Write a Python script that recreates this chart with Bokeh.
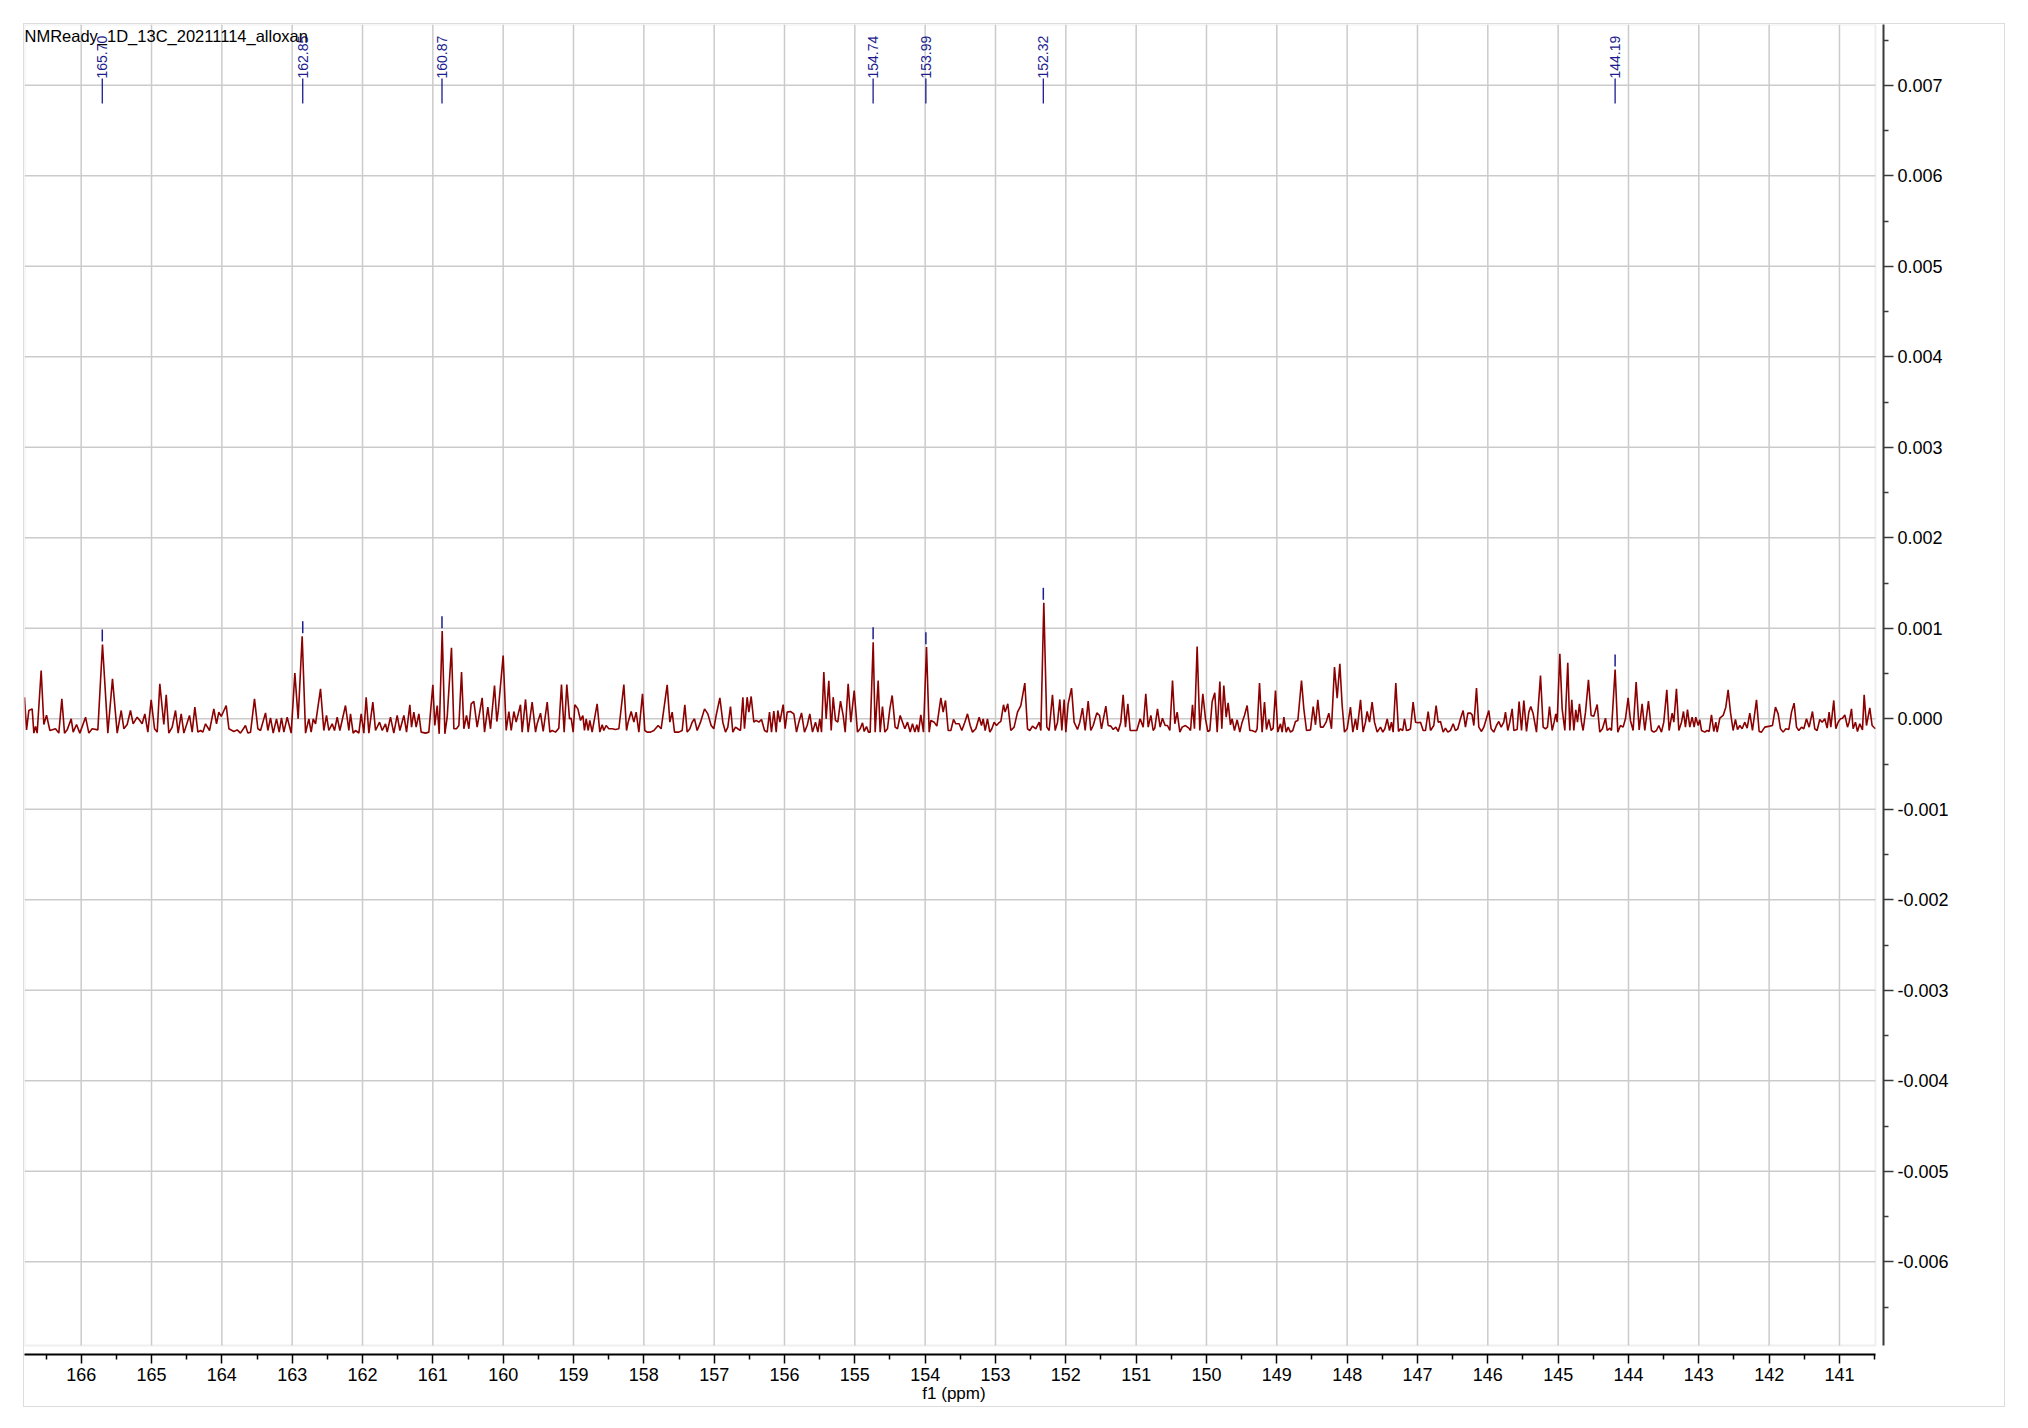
import numpy as np
from bokeh.plotting import figure
from bokeh.models import (Range1d, FixedTicker, PrintfTickFormatter, BoxAnnotation,
                          Label, ColumnDataSource)
from bokeh.core.properties import value
from bokeh.embed import file_html
from bokeh.resources import INLINE

# ---------------- data ----------------
title_text = "NMReady_1D_13C_20211114_alloxan"
x_label = "f1 (ppm)"
x_ticks = [141, 142, 143, 144, 145, 146, 147, 148, 149, 150, 151, 152, 153,
           154, 155, 156, 157, 158, 159, 160, 161, 162, 163, 164, 165, 166]
x_minor = [140.5, 141.5, 142.5, 143.5, 144.5, 145.5, 146.5, 147.5, 148.5, 149.5,
           150.5, 151.5, 152.5, 153.5, 154.5, 155.5, 156.5, 157.5, 158.5, 159.5,
           160.5, 161.5, 162.5, 163.5, 164.5, 165.5, 166.5]
y_ticks = [-0.006, -0.005, -0.004, -0.003, -0.002, -0.001, 0.0,
           0.001, 0.002, 0.003, 0.004, 0.005, 0.006, 0.007]
y_minor = [-0.0065, -0.0055, -0.0045, -0.0035, -0.0025, -0.0015, -0.0005,
           0.0005, 0.0015, 0.0025, 0.0035, 0.0045, 0.0055, 0.0065, 0.0075]

# spectrum vertices: chemical shift (ppm) and intensity (x 1e-4)
spec_ppm = [
166.806,166.777,166.744,166.697,166.673,166.649,166.626,166.569,166.531,166.493,
166.445,166.365,166.318,166.275,166.237,166.199,166.142,166.114,166.066,166.019,
165.938,165.891,165.844,165.763,165.697,165.621,165.555,165.488,165.431,165.393,
165.346,165.299,165.261,165.204,165.166,165.133,165.095,165.052,165.005,164.957,
164.919,164.882,164.825,164.791,164.754,164.706,164.659,164.621,164.578,164.540,
164.460,164.422,164.384,164.341,164.303,164.270,164.232,164.175,164.114,164.076,
164.043,164.009,163.938,163.900,163.829,163.782,163.735,163.664,163.630,163.592,
163.536,163.488,163.450,163.379,163.346,163.308,163.270,163.223,163.185,163.152,
163.118,163.071,163.014,162.962,162.915,162.858,162.810,162.763,162.730,162.701,
162.668,162.597,162.550,162.512,162.479,162.431,162.398,162.360,162.322,162.242,
162.194,162.171,162.133,162.100,162.052,162.019,161.981,161.948,161.910,161.853,
161.815,161.758,161.720,161.673,161.649,161.602,161.555,161.507,161.469,161.412,
161.374,161.327,161.303,161.270,161.237,161.199,161.166,161.104,161.057,161.000,
160.972,160.938,160.910,160.867,160.829,160.796,160.735,160.701,160.664,160.630,
160.592,160.559,160.521,160.488,160.455,160.417,160.370,160.299,160.265,160.218,
160.180,160.123,160.090,160.070,160.000,
159.957,159.919,159.886,159.848,159.815,159.754,159.730,159.682,159.645,159.588,
159.540,159.517,159.469,159.431,159.374,159.336,159.303,159.256,159.209,159.171,
159.133,159.095,159.057,159.033,159.005,158.981,158.938,158.900,158.867,158.844,
158.820,158.791,158.768,158.735,158.664,158.626,158.592,158.569,158.536,158.498,
158.450,158.403,158.355,158.284,158.246,158.223,158.180,158.142,158.109,158.071,
158.019,157.986,157.953,157.905,157.858,157.796,157.754,157.668,157.630,157.597,
157.564,157.502,157.455,157.417,157.384,157.346,157.313,157.280,157.242,157.194,
157.137,157.090,157.043,157.005,156.972,156.919,156.877,156.839,156.806,156.768,
156.735,156.697,156.664,156.626,156.592,156.569,156.531,156.507,156.474,156.436,
156.403,156.365,156.327,156.284,156.246,156.213,156.185,156.152,156.118,156.095,
156.066,156.019,155.991,155.962,155.915,155.867,155.829,155.796,155.758,155.716,
155.678,155.640,155.602,155.559,155.526,155.498,155.474,155.441,155.408,155.370,
155.336,155.308,155.275,155.242,155.204,
155.166,155.137,155.095,155.057,155.009,154.962,154.924,154.891,154.867,154.834,
154.806,154.782,154.739,154.711,154.668,154.640,154.607,154.573,154.536,154.502,
154.469,154.427,154.393,154.355,154.322,154.289,154.251,154.213,154.180,154.147,
154.118,154.095,154.062,154.024,153.981,153.943,153.919,153.872,153.834,153.777,
153.744,153.711,153.673,153.635,153.597,153.564,153.517,153.479,153.436,153.398,
153.360,153.327,153.280,153.232,153.199,153.175,153.147,153.114,153.081,153.052,
153.019,152.986,152.957,152.924,152.886,152.863,152.825,152.782,152.735,152.687,
152.640,152.583,152.545,152.512,152.474,152.427,152.379,152.355,152.313,152.270,
152.237,152.190,152.152,152.118,152.085,152.057,152.024,152.000,151.967,151.919,
151.882,151.834,151.801,151.763,151.725,151.682,151.645,151.611,151.559,151.521,
151.493,151.431,151.398,151.360,151.327,151.289,151.256,151.218,151.185,151.152,
151.118,151.085,151.028,150.991,150.943,150.900,150.863,150.829,150.791,150.758,
150.735,150.697,150.659,150.626,150.588,150.555,150.521,150.483,
150.450,150.417,150.379,150.346,150.299,150.251,150.227,150.199,150.171,150.133,
150.095,150.052,150.014,149.981,149.953,149.919,149.882,149.848,149.810,149.782,
149.754,149.720,149.692,149.659,149.635,149.602,149.564,149.526,149.493,149.460,
149.422,149.384,149.351,149.303,149.280,149.246,149.209,149.175,149.147,149.114,
149.081,149.052,149.019,148.986,148.948,148.924,148.900,148.867,148.839,148.806,
148.773,148.735,148.701,148.649,148.616,148.578,148.521,148.483,148.450,148.417,
148.379,148.341,148.299,148.261,148.223,148.180,148.142,148.104,148.071,148.038,
148.000,147.953,147.919,147.882,147.858,147.810,147.773,147.739,147.716,147.682,
147.645,147.611,147.573,147.526,147.493,147.464,147.431,147.398,147.370,147.346,
147.308,147.270,147.242,147.209,147.185,147.156,147.123,147.100,147.062,147.028,
146.995,146.957,146.919,146.886,146.848,146.815,146.768,146.735,146.706,146.673,
146.635,146.602,146.569,146.531,146.493,146.460,146.427,146.389,146.351,146.318,
146.284,146.246,146.223,146.199,146.161,146.128,146.090,146.057,146.019,145.986,
145.953,145.915,145.877,145.844,145.810,145.773,145.749,145.716,145.687,145.654,
145.630,
145.583,145.555,145.521,145.488,145.450,145.417,145.389,145.355,145.308,145.251,
145.213,145.180,145.152,145.123,145.085,145.057,145.033,145.014,144.976,144.943,
144.905,144.863,144.834,144.806,144.777,144.749,144.725,144.697,144.668,144.645,
144.611,144.569,144.531,144.493,144.445,144.408,144.370,144.327,144.303,144.265,
144.242,144.190,144.152,144.114,144.076,144.043,144.005,143.972,143.934,143.891,
143.848,143.806,143.768,143.716,143.673,143.640,143.602,143.569,143.531,143.498,
143.455,143.422,143.379,143.355,143.318,143.284,143.246,143.218,143.190,143.161,
143.128,143.095,143.066,143.043,143.009,142.986,142.962,142.915,142.882,142.853,
142.820,142.787,142.758,142.739,142.701,142.654,142.616,142.583,142.550,142.512,
142.479,142.450,142.417,142.384,142.346,142.313,142.275,142.237,142.180,142.142,
142.109,142.062,141.991,141.953,141.910,141.872,141.839,141.801,141.763,141.720,
141.682,141.645,141.611,141.578,141.540,141.507,141.469,141.431,141.384,141.351,
141.318,141.280,141.246,141.209,141.175,141.147,141.123,141.081,141.052,141.019,
140.986,140.957,140.924,140.886,140.863,140.829,140.806,140.773,140.744,140.711,
140.673,140.649,140.616,140.569,140.536,140.490,
]
spec_int_1e4 = [
2.39,-1.22,0.92,1.10,-1.58,-0.85,-1.58,5.34,-0.63,0.41,
-1.29,-1.10,-1.58,2.21,-1.58,-1.22,0.00,-1.47,-0.63,-1.58,
0.18,-1.58,-1.10,-1.22,8.21,-1.58,4.42,-1.58,0.92,-1.10,
-0.63,0.92,-0.55,0.18,-0.18,-0.55,0.55,-1.47,2.10,-1.10,
-1.47,3.87,-0.63,2.65,-1.58,-0.92,0.92,-1.58,0.55,-1.58,
0.37,-1.47,1.29,-1.47,-1.29,-1.47,-0.55,-1.29,1.10,-0.55,
0.74,0.26,1.47,-1.10,-1.40,-1.22,-1.58,-0.74,-1.58,-1.47,
2.21,-1.10,-1.29,0.66,-1.29,0.11,-1.58,0.00,-1.47,0.11,
-1.47,0.18,-1.58,5.05,0.00,9.13,-1.58,0.00,-1.47,0.00,
-0.55,3.31,-1.29,0.37,-1.29,-0.55,-1.29,0.18,-1.29,1.47,
-1.29,0.55,-1.58,-1.29,-1.58,0.55,-1.58,2.39,-1.58,1.84,
-1.29,-0.37,-1.29,-0.55,-1.47,0.18,-1.58,0.37,-1.29,0.37,
-1.47,1.55,-0.92,0.74,-0.92,0.55,-1.47,-1.58,-1.47,3.76,
-0.74,1.47,-1.66,9.69,-1.66,0.18,7.85,-1.10,-1.10,-0.74,
5.16,-1.10,0.37,-1.10,1.66,1.92,-0.92,2.32,-1.47,1.29,
-1.10,3.68,-0.30,0.90,7.00,
-1.29,0.81,-1.29,0.81,-0.37,1.55,-1.47,2.14,-1.47,1.84,
-1.47,-0.55,0.63,-1.40,1.84,-1.47,-1.29,-1.47,-1.03,3.79,
-1.47,3.79,0.00,0.07,-1.47,1.55,1.10,-0.18,0.37,-1.29,
0.00,-1.29,-0.18,-1.47,1.66,-1.47,-0.66,-1.29,-0.74,-1.10,
-1.10,-1.18,-1.10,3.79,-1.29,-0.37,0.81,-0.37,0.74,-1.47,
2.76,-1.29,-1.47,-1.47,-1.29,-0.74,-1.10,3.76,-0.37,0.74,
-1.47,-1.47,-1.29,1.55,-1.47,-1.10,-0.37,0.00,-1.29,-0.37,
1.10,0.55,-0.74,-1.10,0.37,2.32,-0.37,-1.47,-0.92,1.36,
-1.47,-0.92,-1.10,-1.29,2.39,-1.10,2.39,0.74,2.47,-0.37,
-0.18,-0.37,-0.07,-1.29,-1.47,0.74,-1.47,0.85,-1.47,0.92,
-0.37,1.58,-1.10,0.74,0.81,0.55,-1.47,-0.37,0.66,-1.47,
-0.74,0.55,-1.47,-0.37,-1.47,0.00,-1.47,5.16,0.00,4.20,
-1.29,2.39,-0.18,-0.37,1.95,
0.37,-1.47,3.87,-0.37,3.13,-1.47,-1.10,-0.44,-1.40,-0.85,
-1.47,-1.47,8.47,-1.47,4.24,-1.47,1.36,-1.47,-1.10,1.10,
2.58,-0.92,-1.10,0.37,-0.37,-1.10,-0.37,-1.47,-0.55,-1.47,
-0.66,-1.47,0.44,-1.47,7.92,-1.47,-0.18,-0.37,-0.81,2.32,
0.74,2.03,-1.29,-1.29,-0.07,-0.55,-0.55,-1.29,-0.37,0.55,
-0.74,-1.47,-1.10,0.18,-0.74,0.00,-1.29,0.00,-1.47,-1.10,
-0.37,-0.74,-0.48,-0.29,1.55,0.74,1.66,-1.29,-0.92,0.74,
1.47,3.94,-1.10,-1.29,-0.81,-1.10,-0.37,-1.29,12.82,-0.92,
-1.29,2.65,-1.29,-0.37,2.14,-1.29,2.14,-1.47,1.66,3.39,
-0.37,-1.18,-0.37,1.18,-1.29,1.95,-1.29,-0.74,0.66,0.37,
-1.10,1.40,-0.74,-0.81,-1.18,-0.92,-1.40,-0.37,2.65,-0.92,
1.66,-1.29,-1.29,-1.29,0.00,-0.92,2.76,-0.92,0.37,-1.29,
-1.03,1.10,-0.92,0.07,-0.74,-0.74,-1.29,4.24,
-0.55,0.74,-1.47,-0.92,-0.74,-1.03,-1.29,1.55,-1.10,7.99,
-1.29,2.76,0.00,-1.40,-1.29,1.92,2.87,-1.47,4.13,-1.10,
3.68,0.18,1.77,-0.66,0.00,-1.29,-0.11,-1.47,-0.37,0.37,
1.47,-1.29,-1.29,-1.47,-1.10,3.94,-1.47,1.84,-1.18,-0.07,
-1.29,-1.03,3.13,-1.47,-0.55,-1.47,0.18,-1.47,-0.92,-1.47,
-1.29,-0.29,-0.18,4.24,1.10,-1.29,-1.22,1.36,-0.66,2.10,
-0.92,-0.92,-0.37,0.63,-1.10,5.71,2.28,6.08,1.47,-1.47,
-1.10,1.29,-1.47,0.00,-1.22,2.10,-1.47,-0.37,0.81,-0.37,
1.84,-0.37,-1.47,-0.92,-1.47,-1.10,0.00,-1.29,-0.37,-1.47,
3.94,-1.40,-1.10,-1.29,0.00,-1.29,-1.22,-1.10,1.84,-0.37,
-0.44,-0.37,-1.29,-1.29,0.81,-1.29,-0.74,1.47,-0.37,-0.29,
-1.47,-1.03,-1.47,-1.29,-0.55,-1.29,-1.10,0.00,0.92,-0.92,
0.63,0.63,0.44,-0.74,3.39,-0.92,-1.40,-0.92,0.07,0.92,
-1.10,-1.47,-0.74,-0.29,-0.92,-0.37,0.74,-1.29,-0.37,1.10,
-1.29,
-1.18,1.92,-1.29,2.03,-1.40,0.74,1.36,0.55,-1.47,4.79,
-0.92,-1.10,-0.92,1.36,-1.29,-0.37,0.55,-0.37,7.18,1.10,
-1.29,6.19,-1.29,2.10,-1.29,0.99,-0.37,1.66,-0.37,-1.29,
0.74,4.31,0.37,0.29,1.58,-1.47,-1.10,0.07,-1.29,-1.03,
-1.29,5.45,-1.47,-0.74,-0.92,0.00,2.32,-0.18,-1.29,4.05,
-1.22,1.66,-1.29,1.95,-1.29,-1.47,-1.29,-0.74,-1.47,-0.37,
3.20,-1.29,0.63,-0.37,3.31,-1.29,-0.37,0.81,-0.92,1.03,
-0.92,0.18,-0.92,0.18,-0.74,-0.11,-1.29,-1.47,-1.29,-1.40,
0.44,-1.40,-0.37,-1.47,0.07,0.37,1.29,3.20,0.74,-1.29,
-0.07,-1.18,-0.74,-1.10,-0.37,-1.03,0.63,-1.29,2.10,-1.40,
-1.47,-0.92,-0.81,-0.74,1.29,0.55,-1.10,-1.47,-1.10,-1.18,
0.74,1.73,-0.92,-1.29,-0.92,-1.10,0.00,-0.92,0.81,-1.10,
-1.29,-0.07,-0.37,0.00,-1.03,0.74,-0.92,2.03,-1.10,-0.37,
0.00,0.07,0.44,-0.92,-0.37,1.10,-1.10,-0.37,-1.40,-0.55,
-1.22,2.65,-0.74,1.22,-0.74,-1.10,
]

# picked peaks
peak_ppm = [165.70, 162.85, 160.87, 154.74, 153.99, 152.32, 144.19]
peak_labels = ["165.70", "162.85", "160.87", "154.74", "153.99", "152.32", "144.19"]
peak_height_1e4 = [8.21, 9.13, 9.69, 8.47, 7.92, 12.82, 5.45]

# ---------------- layout constants ----------------
FONT = "Liberation Sans"
X_LEFT = 166.806          # left edge of plot box
X_RIGHT_BOX = 140.488     # right edge of grey plot box
X_RIGHT_FRAME = 140.374   # where the y axis sits
Y_TOP = 0.007672
Y_BOTTOM_BOX = -0.006925
Y_BOTTOM_FRAME = -0.007024
PX = 0.001 / 90.5         # data units per screen pixel (vertical)

spec_int = np.array(spec_int_1e4) * 1e-4
peak_h = np.array(peak_height_1e4) * 1e-4

p = figure(width=1982, height=1384, output_backend="svg", toolbar_location=None,
           x_range=Range1d(X_LEFT, X_RIGHT_FRAME),
           y_range=Range1d(Y_BOTTOM_FRAME, Y_TOP),
           x_axis_location="below", y_axis_location="right",
           min_border_left=0, min_border_top=0,
           min_border_right=123, min_border_bottom=54)
p.margin = (23, 0, 0, 23)
p.styles = {"border": "1px solid #dcdcdc"}
p.outline_line_color = None
p.xgrid.visible = False
p.ygrid.visible = False
p.background_fill_color = "white"
p.border_fill_color = "white"

GRID = "#cbcbcb"
# grid lines bounded to the plot box
p.segment(x0=x_ticks, x1=x_ticks, y0=[Y_BOTTOM_BOX] * len(x_ticks), y1=[Y_TOP] * len(x_ticks),
          line_color=GRID, line_width=1.5)
p.segment(x0=[X_LEFT] * len(y_ticks), x1=[X_RIGHT_BOX] * len(y_ticks), y0=y_ticks, y1=y_ticks,
          line_color=GRID, line_width=1.5)

# plot box
p.add_layout(BoxAnnotation(left=X_LEFT, right=X_RIGHT_BOX, bottom=Y_BOTTOM_BOX, top=Y_TOP,
                           fill_alpha=0, line_color=GRID, line_width=2))

# spectrum
src = ColumnDataSource(dict(ppm=spec_ppm, inten=spec_int))
p.line(x="ppm", y="inten", source=src, line_color="#8b0000", line_width=1.6)

# peak markers
NAVY = "#1c1c8e"
n = len(peak_ppm)
p.segment(x0=peak_ppm, x1=peak_ppm, y0=peak_h + 3 * PX, y1=peak_h + 15 * PX,
          line_color=NAVY, line_width=1.5)
p.segment(x0=peak_ppm, x1=peak_ppm, y0=[Y_TOP - 79 * PX] * n, y1=[Y_TOP - 54 * PX] * n,
          line_color=NAVY, line_width=1.3)
p.text(x=peak_ppm, y=[Y_TOP - 54 * PX] * n, text=peak_labels, angle=np.pi / 2,
       text_align="left", text_baseline="middle", text_color=NAVY,
       text_font=value(FONT), text_font_size="14px")

# title inside the plot
p.add_layout(Label(x=X_LEFT, y=Y_TOP, y_offset=-2, text=title_text, text_align="left",
                   text_baseline="top", text_font=FONT, text_font_size="16.5px",
                   text_color="black"))

# x axis
xa = p.xaxis[0]
xa.ticker = FixedTicker(ticks=x_ticks, minor_ticks=x_minor)
xa.formatter = PrintfTickFormatter(format="%d")
xa.bounds = (X_RIGHT_BOX, X_LEFT)
xa.axis_label = x_label
xa.axis_label_text_font = FONT
xa.axis_label_text_font_size = "17px"
xa.axis_label_text_font_style = "normal"
xa.axis_label_text_color = "black"
xa.axis_label_standoff = 0
xa.major_label_text_font = FONT
xa.major_label_text_font_size = "18px"
xa.major_label_text_color = "black"
xa.major_label_standoff = 4
xa.axis_line_color = "black"
xa.axis_line_width = 2
xa.major_tick_line_color = "black"
xa.major_tick_line_width = 1.5
xa.minor_tick_line_color = "black"
xa.minor_tick_line_width = 1.5
xa.major_tick_in = 0
xa.major_tick_out = 9
xa.minor_tick_in = 0
xa.minor_tick_out = 5

# y axis (right)
ya = p.yaxis[0]
ya.ticker = FixedTicker(ticks=y_ticks, minor_ticks=y_minor)
ya.formatter = PrintfTickFormatter(format="%.3f")
ya.bounds = (Y_BOTTOM_BOX, Y_TOP)
ya.major_label_text_font = FONT
ya.major_label_text_font_size = "18px"
ya.major_label_text_color = "black"
ya.major_label_standoff = 4
ya.axis_line_color = "#3a3a3a"
ya.axis_line_width = 2
ya.major_tick_line_color = "#3a3a3a"
ya.major_tick_line_width = 1.5
ya.minor_tick_line_color = "#3a3a3a"
ya.minor_tick_line_width = 1.5
ya.major_tick_in = 0
ya.major_tick_out = 10
ya.minor_tick_in = 0
ya.minor_tick_out = 5

open("out.html", "w").write(file_html(p, INLINE))
